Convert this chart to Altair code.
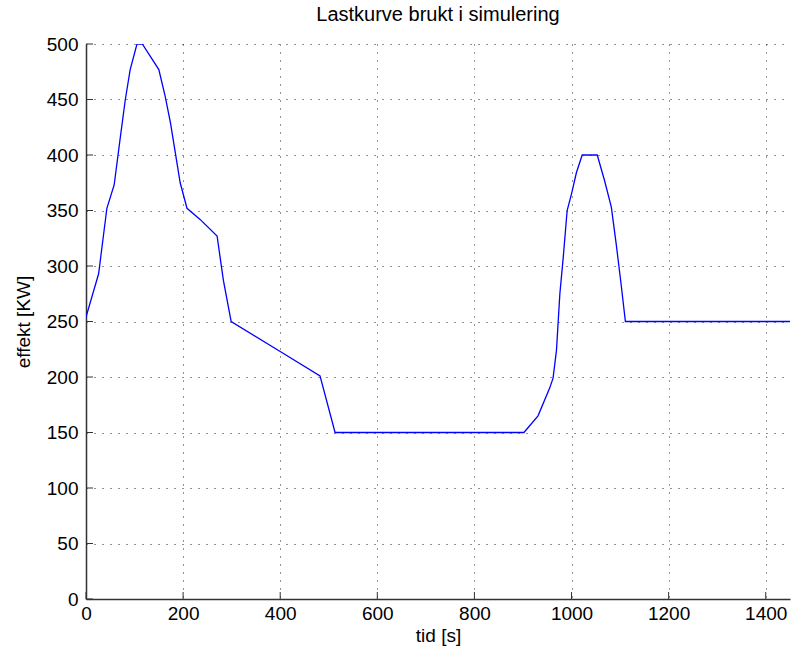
import altair as alt
import pandas as pd

# Load curve values
tid = [0, 26, 43, 58, 71, 81, 91, 105, 116, 150, 163, 174, 184, 194, 208, 235,
       270, 283, 299, 400, 482, 513, 902, 931, 955, 962, 969, 976, 983, 991,
       1000, 1010, 1022, 1053, 1068, 1082, 1092, 1102, 1111, 1450]
effekt = [254, 293, 352, 373, 417, 450, 477, 500, 500, 477, 453, 429, 402, 375,
          352, 342, 327, 287, 250, 223, 201, 150, 150, 165, 190, 199, 224, 275,
          308, 350, 365, 384, 400, 400, 377, 353, 320, 284, 250, 250]

x_ticks = [0, 200, 400, 600, 800, 1000, 1200, 1400]
y_ticks = [0, 50, 100, 150, 200, 250, 300, 350, 400, 450, 500]

X_MAX = 1450
Y_MAX = 500
W, H = 704, 555
TICK_PX = 7

df = pd.DataFrame({"tid": tid, "effekt": effekt})
xt = pd.DataFrame({"v": x_ticks})
yt = pd.DataFrame({"v": y_ticks})

FONT = "Liberation Sans"

xscale = alt.Scale(domain=[0, X_MAX], nice=False, zero=False)
yscale = alt.Scale(domain=[0, Y_MAX], nice=False, zero=False)

xaxis = alt.Axis(values=x_ticks, title="tid [s]", format="d", grid=True, gridDash=[1, 7],
                 gridColor="#000000", gridOpacity=0.85, ticks=False,
                 labelFlush=False, labelPadding=5, titlePadding=3,
                 domainColor="#333333", domainWidth=1.5)
yaxis = alt.Axis(values=y_ticks, title="effekt [KW]", format="d", grid=True, gridDash=[1, 7],
                 gridColor="#000000", gridOpacity=0.85, ticks=False,
                 labelPadding=8, titlePadding=13,
                 domainColor="#333333", domainWidth=1.5)

line = alt.Chart(df).mark_line(color="#0000ff", strokeWidth=1.3, clip=True).encode(
    x=alt.X("tid:Q", scale=xscale, axis=xaxis),
    y=alt.Y("effekt:Q", scale=yscale, axis=yaxis),
)

# inward tick marks (MATLAB style)
xt["y0"] = 0
xt["y1"] = TICK_PX * Y_MAX / H
bottom_ticks = alt.Chart(xt).mark_rule(color="#333333", strokeWidth=1).encode(
    x=alt.X("v:Q", scale=xscale),
    y=alt.Y("y0:Q", scale=yscale),
    y2="y1:Q",
)
yt["x0"] = 0
yt["x1"] = TICK_PX * X_MAX / W
left_ticks = alt.Chart(yt).mark_rule(color="#333333", strokeWidth=1).encode(
    y=alt.Y("v:Q", scale=yscale),
    x=alt.X("x0:Q", scale=xscale),
    x2="x1:Q",
)

chart = alt.layer(line, bottom_ticks, left_ticks).properties(
    width=W, height=H,
    title=alt.TitleParams("Lastkurve brukt i simulering", fontSize=20,
                          fontWeight="normal", font=FONT, color="#000000",
                          offset=10),
    autosize=alt.AutoSizeParams(type="none"),
    padding={"left": 86, "top": 44, "right": 1, "bottom": 58},
    background="#ffffff",
).configure_axis(
    labelFont=FONT, titleFont=FONT, labelFontSize=19, titleFontSize=19,
    labelColor="#000000", titleColor="#000000", titleFontWeight="normal",
).configure_view(stroke=None)

chart.save("out.html", embed_options={"renderer": "svg", "actions": False})
